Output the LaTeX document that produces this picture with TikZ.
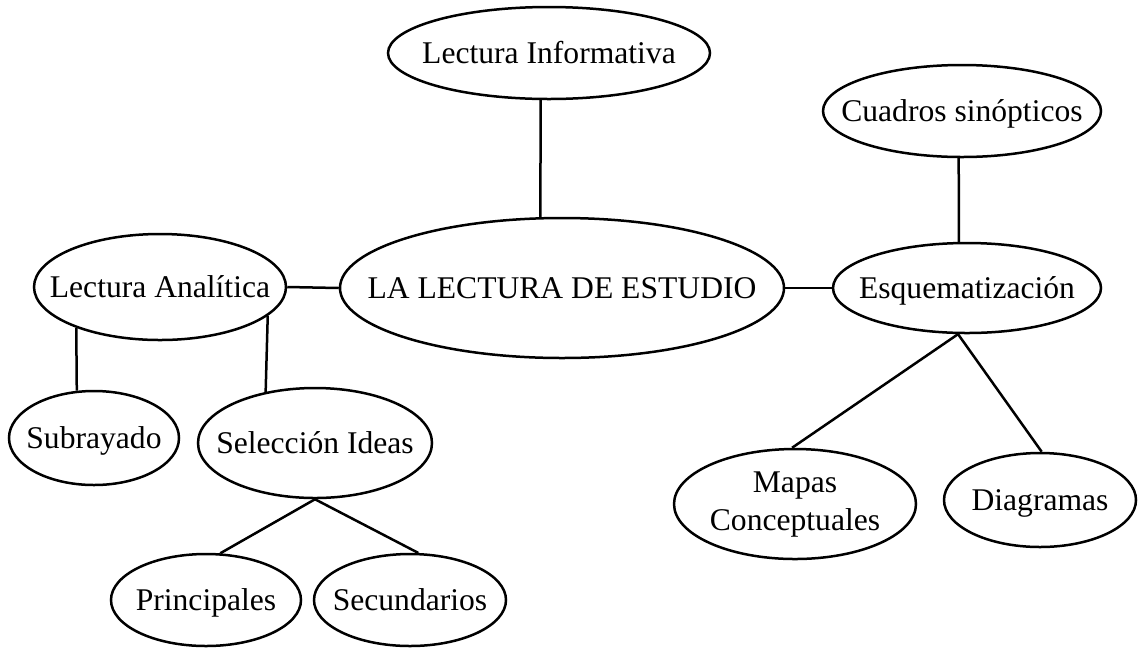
\documentclass[tikz,border=0pt]{standalone}
\usepackage{fontspec}
\setmainfont{Liberation Serif}
\usetikzlibrary{shapes.geometric}

\newcommand{\ovaltext}[1]{\makebox[0pt]{#1}}

\begin{document}
\begin{tikzpicture}[
    x=1pt, y=-1pt,
    line width=2.5pt,
    idea/.style={draw, ellipse, inner sep=0pt,
        font=\fontsize{31.6}{38}\selectfont,
        text height=21.5pt, text depth=0pt}]

    \useasboundingbox (0,0) rectangle (1139,649);

    % main topic
    \node[idea, minimum width=444pt, minimum height=140pt] (estudio) at (562,288) {\ovaltext{LA LECTURA DE ESTUDIO}};

    % top branch
    \node[idea, minimum width=322pt, minimum height=92pt] (info) at (549,53) {\ovaltext{Lectura Informativa}};
    \draw (info.260) -- (estudio.107);

    % left branch
    \node[idea, minimum width=252pt, minimum height=106pt] (analitica) at (160,287) {\ovaltext{Lectura Anal\'itica}};
    \node[idea, minimum width=170pt, minimum height=94pt] (subrayado) at (94,438) {\ovaltext{Subrayado}};
    \node[idea, minimum width=234pt, minimum height=110pt] (seleccion) at (315,443) {\ovaltext{Selecci\'on Ideas}};
    \node[idea, minimum width=190pt, minimum height=92pt] (principales) at (206,600) {\ovaltext{Principales}};
    \node[idea, minimum width=192pt, minimum height=92pt] (secundarios) at (410,600) {\ovaltext{Secundarios}};

    \draw (analitica.east) -- (estudio.west);
    \draw (analitica.206) -- (subrayado.110);
    \draw (analitica.345) -- (seleccion.134);
    \draw (seleccion.south) -- (principales.73);
    \draw (seleccion.south) -- (secundarios.80);

    % right branch
    \node[idea, minimum width=268pt, minimum height=90pt] (esquema) at (967,288) {\ovaltext{Esquematizaci\'on}};
    \node[idea, minimum width=278pt, minimum height=92pt] (cuadros) at (962,111) {\ovaltext{Cuadros sin\'opticos}};
    \node[idea, minimum width=242pt, minimum height=110pt, text height=11.6pt] (mapas) at (795,504) {\ovaltext{\begin{tabular}{c} Mapas \\ Conceptuales \end{tabular}}};
    \node[idea, minimum width=192pt, minimum height=94pt] (diagramas) at (1040,500) {\ovaltext{Diagramas}};

    \draw (estudio.east) -- (esquema.west);
    \draw (cuadros.266) -- (esquema.100);
    \draw (esquema.259) -- (mapas.93);
    \draw (esquema.259) -- (diagramas.88);

\end{tikzpicture}
\end{document}
